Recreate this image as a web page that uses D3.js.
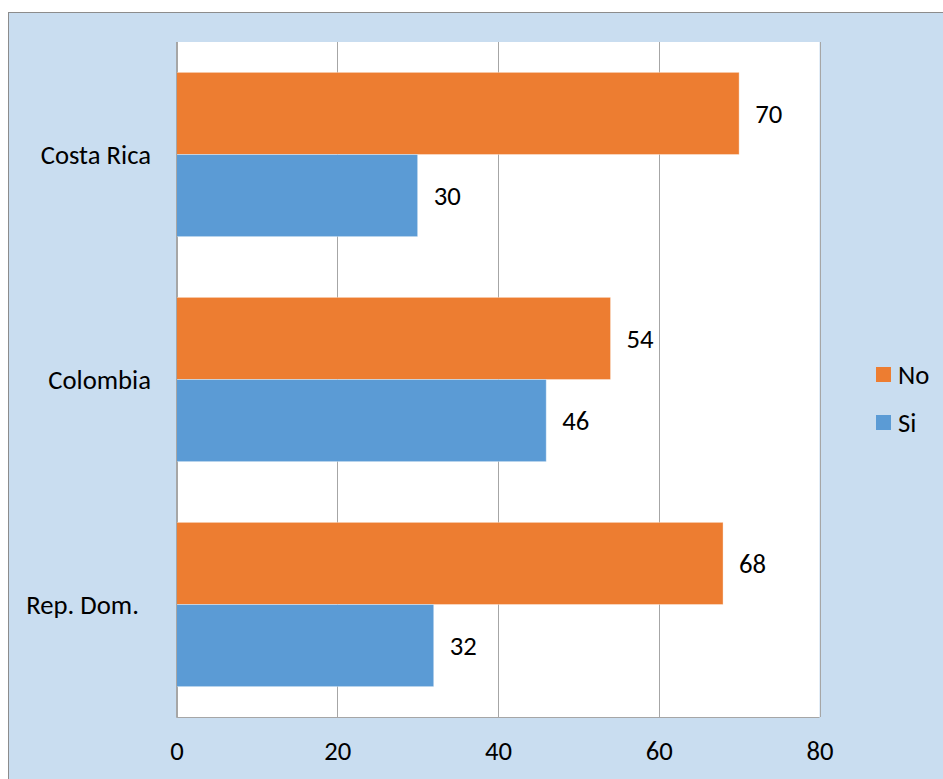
<!DOCTYPE html>
<html>
<head>
<meta charset="utf-8">
<script src="https://cdn.jsdelivr.net/npm/d3@7"></script>
<style>
  html, body { margin: 0; padding: 0; background: #ffffff; }
  svg { display: block; }
  text { font-family: "Carlito", "Lato", "Open Sans", sans-serif; fill: #000; }
</style>
</head>
<body>
<svg id="chart" width="943" height="779"></svg>
<script>
// Survey answers by country (percent)
const categories = ["Costa Rica", "Colombia", "Rep. Dom.\u00a0\u00a0"];
const seriesNames = ["No", "Si"];
const noValues = [70, 54, 68];
const siValues = [30, 46, 32];
const xTicks = [0, 20, 40, 60, 80];
const colors = { No: "#ED7D31", Si: "#5B9BD5" };

const rows = categories.map((c, i) => ({ category: c, No: noValues[i], Si: siValues[i] }));

const FS = 26.7;
const svg = d3.select("#chart");

// chart area background and frame
svg.append("rect")
  .attr("x", 8.5).attr("y", 12.5)
  .attr("width", 960).attr("height", 800)
  .attr("fill", "#C9DDF0")
  .attr("stroke", "#8C8C8C").attr("stroke-width", 1);

const plot = { left: 176.5, right: 819.5, top: 42, bottom: 717 };

const x = d3.scaleLinear().domain([0, 80]).range([plot.left, plot.right]);
const y0 = d3.scaleBand().domain(categories).range([plot.top, plot.bottom]).paddingInner(0.27).paddingOuter(0.135);
const y1 = d3.scaleBand().domain(seriesNames).range([0, y0.bandwidth()]);

// plot area
svg.append("rect")
  .attr("x", plot.left).attr("y", plot.top)
  .attr("width", plot.right - plot.left).attr("height", plot.bottom - plot.top)
  .attr("fill", "#ffffff");

// vertical gridlines
svg.append("g")
  .selectAll("line")
  .data(xTicks)
  .join("line")
  .attr("x1", d => Math.round(x(d)) + 0.5).attr("x2", d => Math.round(x(d)) + 0.5)
  .attr("y1", plot.top).attr("y2", plot.bottom)
  .attr("stroke", "#A6A6A6").attr("stroke-width", 1);

// bars
const groups = svg.append("g")
  .selectAll("g")
  .data(rows)
  .join("g")
  .attr("transform", d => `translate(0,${y0(d.category)})`);

groups.selectAll("rect")
  .data(d => seriesNames.map(s => ({ key: s, value: d[s] })))
  .join("rect")
  .attr("x", x(0))
  .attr("y", d => y1(d.key))
  .attr("width", d => x(d.value) - x(0))
  .attr("height", y1.bandwidth())
  .attr("fill", d => colors[d.key])
  .attr("stroke", "#ffffff").attr("stroke-opacity", 0.35).attr("stroke-width", 1);

// value labels
groups.selectAll("text.value")
  .data(d => seriesNames.map(s => ({ key: s, value: d[s] })))
  .join("text")
  .attr("class", "value")
  .attr("x", d => x(d.value) + 16)
  .attr("y", d => y1(d.key) + y1.bandwidth() / 2)
  .attr("dy", "0.35em")
  .attr("font-size", FS)
  .text(d => d.value);

// left and bottom axis lines
svg.append("line")
  .attr("x1", plot.left).attr("x2", plot.left)
  .attr("y1", plot.top).attr("y2", plot.bottom + 0.5)
  .attr("stroke", "#A6A6A6");
svg.append("line")
  .attr("x1", plot.left).attr("x2", plot.right)
  .attr("y1", plot.bottom + 0.5).attr("y2", plot.bottom + 0.5)
  .attr("stroke", "#A6A6A6");

// x tick labels
const xAxis = d3.axisBottom(x).tickValues(xTicks).tickSize(0).tickPadding(24);
const gx = svg.append("g").attr("transform", `translate(0,${plot.bottom})`).call(xAxis);
gx.select(".domain").remove();
gx.selectAll("text").attr("font-size", FS).attr("font-family", "Carlito, Lato, 'Open Sans', sans-serif").attr("fill", "#000");

// category labels
svg.append("g")
  .selectAll("text")
  .data(categories)
  .join("text")
  .attr("x", 151)
  .attr("y", d => y0(d) + y0.bandwidth() / 2)
  .attr("dy", "0.35em")
  .attr("text-anchor", "end")
  .attr("font-size", FS)
  .text(d => d);

// legend
const legend = svg.append("g")
  .selectAll("g")
  .data(seriesNames)
  .join("g")
  .attr("transform", (d, i) => `translate(876,${367 + i * 48})`);
legend.append("rect")
  .attr("width", 15).attr("height", 15)
  .attr("fill", d => colors[d]);
legend.append("text")
  .attr("x", 22).attr("y", 7.5).attr("dy", "0.35em")
  .attr("font-size", FS)
  .text(d => d);
</script>
</body>
</html>
